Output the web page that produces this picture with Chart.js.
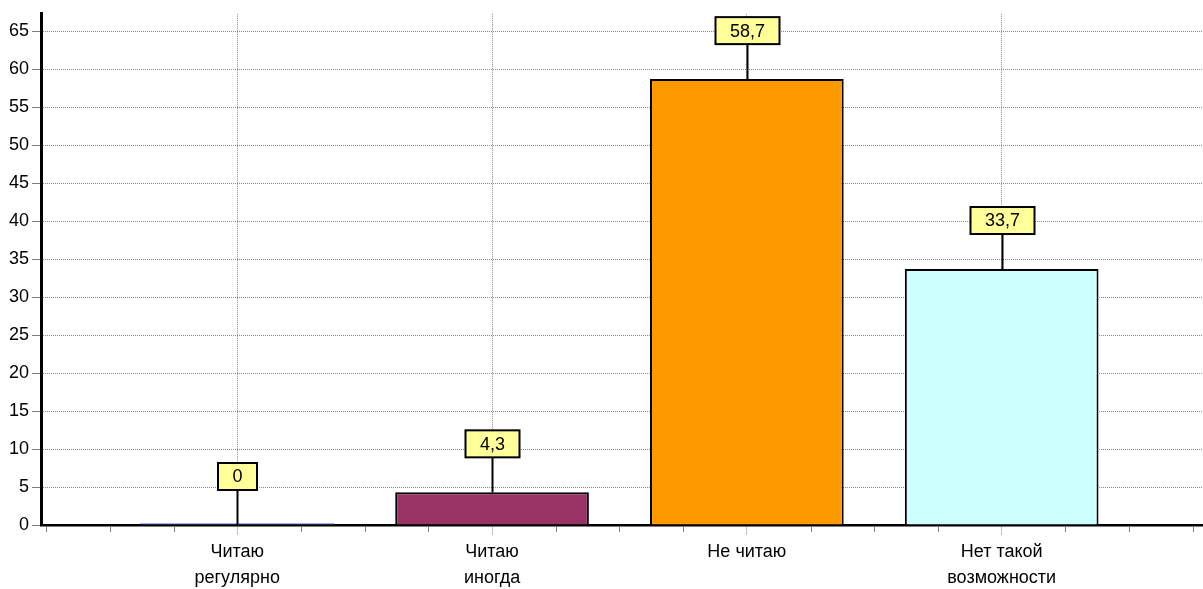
<!DOCTYPE html>
<html>
<head>
<meta charset="utf-8">
<script src="https://cdn.jsdelivr.net/npm/chart.js@4"></script>
<style>
  body { margin: 0; background: #fff; }
  #wrap { width: 1203px; height: 589px; }
</style>
</head>
<body>
<div id="wrap"><canvas id="chart"></canvas></div>
<script>
// данные
const categories = [['Читаю', 'регулярно'], ['Читаю', 'иногда'], ['Не читаю'], ['Нет такой', 'возможности']];
const values = [0, 4.3, 58.7, 33.7];
const barColors = ['#9999FF', '#993366', '#FF9900', '#CCFFFF'];
const yTicksStep = 5;

const FONT = "'Liberation Sans', Arial, sans-serif";

// мелкие засечки на оси X
const minorTicks = {
    id: 'minorTicks',
    afterDraw(chart) {
        const x = chart.scales.x;
        const ctx = chart.ctx;
        const base = chart.chartArea.bottom;
        ctx.save();
        ctx.strokeStyle = '#808080';
        ctx.lineWidth = 1;
        for (let v = -0.75; v <= x.max; v += 0.25) {
            if (Math.abs(v - Math.round(v)) < 0.01) continue;
            const px = Math.round(x.getPixelForValue(v)) + 0.5;
            ctx.beginPath();
            ctx.moveTo(px, base + 2);
            ctx.lineTo(px, base + 7);
            ctx.stroke();
        }
        ctx.restore();
    }
};

// подписи значений в жёлтых рамках
const valueBoxes = {
    id: 'valueBoxes',
    afterDatasetsDraw(chart) {
        const ctx = chart.ctx;
        const meta = chart.getDatasetMeta(0);
        ctx.save();
        ctx.font = '18px ' + FONT;
        ctx.textAlign = 'center';
        ctx.textBaseline = 'middle';
        meta.data.forEach((bar, i) => {
            const text = String(values[i]).replace('.', ',');
            const top = chart.scales.y.getPixelForValue(values[i]);
            const cx = Math.round(bar.x) + 0.5;
            const boxBottom = top - 35;
            const h = 27;
            const w = Math.round(ctx.measureText(text).width + 29);
            ctx.strokeStyle = '#000';
            ctx.lineWidth = 2;
            ctx.beginPath();
            ctx.moveTo(cx, top);
            ctx.lineTo(cx, boxBottom);
            ctx.stroke();
            ctx.fillStyle = '#FFFF99';
            ctx.fillRect(cx - w / 2, boxBottom - h, w, h);
            ctx.strokeRect(cx - w / 2, boxBottom - h, w, h);
            ctx.fillStyle = '#000';
            ctx.fillText(text, cx, boxBottom - h / 2 + 1);
        });
        ctx.restore();
    }
};

new Chart(document.getElementById('chart'), {
    type: 'bar',
    data: {
        datasets: [{
            data: values.map((v, i) => ({ x: i, y: v })),
            backgroundColor: barColors,
            borderColor: values.map(v => v === 0 ? '#9999FF' : '#000'),
            borderWidth: 2,
            barPercentage: 0.76,
            categoryPercentage: 1,
            minBarLength: 2
        }]
    },
    options: {
        responsive: true,
        maintainAspectRatio: false,
        animation: false,
        layout: { padding: { top: 12, left: 0, right: 0, bottom: 0 } },
        plugins: {
            legend: { display: false },
            tooltip: { enabled: false }
        },
        scales: {
            x: {
                type: 'linear',
                min: -0.77,
                max: 3.79,
                offset: false,
                afterFit: s => { s.height = 64; },
                ticks: {
                    stepSize: 1,
                    includeBounds: false,
                    autoSkip: false,
                    maxRotation: 0,
                    padding: 4,
                    color: '#000',
                    font: { family: FONT, size: 18, lineHeight: 1.44 },
                    callback: v => Number.isInteger(v) && categories[v] ? categories[v] : ''
                },
                grid: {
                    offset: false,
                    color: '#8c8c8c',
                    lineWidth: 1,
                    tickLength: 10,
                    tickColor: '#808080',
                    tickBorderDash: [1, 1]
                },
                border: { display: true, color: '#000', width: 2.5, dash: [1, 1] }
            },
            y: {
                min: 0,
                max: 67.3,
                afterFit: s => { s.width = 41; },
                ticks: {
                    stepSize: yTicksStep,
                    includeBounds: false,
                    padding: 3,
                    color: '#000',
                    font: { family: FONT, size: 18 }
                },
                grid: {
                    color: '#8c8c8c',
                    lineWidth: 1,
                    tickLength: 9,
                    tickColor: '#808080'
                },
                border: { display: true, color: '#000', width: 3, dash: [1, 1] }
            }
        }
    },
    plugins: [minorTicks, valueBoxes]
});
</script>
</body>
</html>
